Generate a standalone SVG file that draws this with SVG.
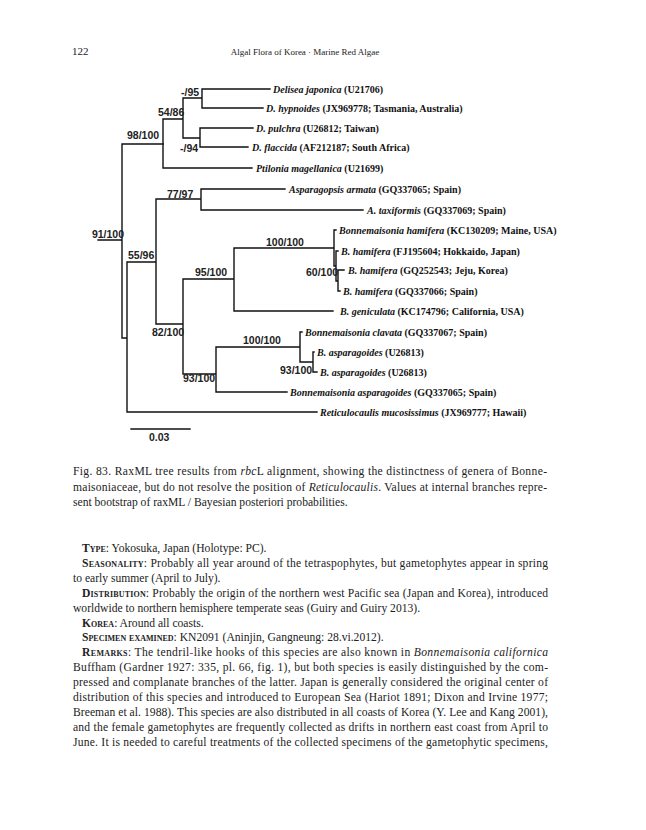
<svg xmlns="http://www.w3.org/2000/svg" width="646" height="830" viewBox="0 0 646 830">
<style>
.br{stroke:#111;stroke-width:1.4;fill:none;stroke-linecap:square}
.sup{font-family:"Liberation Sans",Arial,sans-serif;font-weight:bold;font-size:10.5px;fill:#222}
.tip{font-family:"Liberation Serif","Times New Roman",serif;font-weight:bold;font-size:10px;fill:#111}
.it{font-style:italic}
.hd{font-family:"Liberation Serif","Times New Roman",serif;fill:#222}
.tx{font-family:"Liberation Serif","Times New Roman",serif;font-size:11.6px;fill:#222}
.sc{font-variant:small-caps;font-weight:bold}
</style>
<rect width="646" height="830" fill="#fff"/>
<g id="header">
<text class="hd" x="72" y="55" font-size="11px">122</text>
<text class="hd" x="305" y="55" font-size="9px" text-anchor="middle">Algal Flora of Korea · Marine Red Algae</text>
</g>
<g id="connectors">
<path class="br" d="M98,240H122M122,144V338M122,144H163M122,338H127M127,262V412M127,412H317M127,262H156M156,199V324M156,199H201M201,189V210M201,189H285M201,210H363M156,324H183M183,279V374M183,279H234M234,248V311M234,248H334M234,311H333M334,230V266M334,230H336M334,266H336M336,251V281M336,251H338M336,281H338M338,270V291M338,270H344M338,291H340M183,374H216M216,347V392M216,347H300M216,392H287M300,332V362M300,332H302M300,362H313M313,352V372M313,352H314M313,372H317"/>
<path class="br" d="M163,119V168M163,168H252M163,119H183M183,98V138M183,98H202M202,89V108M202,89H270M202,108H263M183,138H200M200,128V147M200,128H253M200,147H248"/>
<path class="br" d="M131,429H190"/>
</g>
<g id="tips">
<g id="t1"><text class="tip" x="273" y="92.5"><tspan class="it">Delisea japonica</tspan> (U21706)</text></g>
<g id="t2"><text class="tip" x="266" y="111.5"><tspan class="it">D. hypnoides</tspan> (JX969778; Tasmania, Australia)</text></g>
<g id="t3"><text class="tip" x="256" y="131.5"><tspan class="it">D. pulchra</tspan> (U26812; Taiwan)</text></g>
<g id="t4"><text class="tip" x="252" y="150.5"><tspan class="it">D. flaccida</tspan> (AF212187; South Africa)</text></g>
<g id="t5"><text class="tip" x="256" y="171.5"><tspan class="it">Ptilonia magellanica</tspan> (U21699)</text></g>
<g id="t6"><text class="tip" x="289" y="192.5"><tspan class="it">Asparagopsis armata</tspan> (GQ337065; Spain)</text></g>
<g id="t7"><text class="tip" x="367" y="213.5"><tspan class="it">A. taxiformis</tspan> (GQ337069; Spain)</text></g>
<g id="t8"><text class="tip" x="339" y="233.5"><tspan class="it">Bonnemaisonia hamifera</tspan> (KC130209; Maine, USA)</text></g>
<g id="t9"><text class="tip" x="341" y="254.5"><tspan class="it">B. hamifera</tspan> (FJ195604; Hokkaido, Japan)</text></g>
<g id="t10"><text class="tip" x="348" y="274"><tspan class="it">B. hamifera</tspan> (GQ252543; Jeju, Korea)</text></g>
<g id="t11"><text class="tip" x="343" y="294.5"><tspan class="it">B. hamifera</tspan> (GQ337066; Spain)</text></g>
<g id="t12"><text class="tip" x="340" y="314.5"><tspan class="it">B. geniculata</tspan> (KC174796; California,  USA)</text></g>
<g id="t13"><text class="tip" x="305" y="335.5"><tspan class="it">Bonnemaisonia clavata</tspan> (GQ337067; Spain)</text></g>
<g id="t14"><text class="tip" x="317" y="355.5"><tspan class="it">B. asparagoides</tspan> (U26813)</text></g>
<g id="t15"><text class="tip" x="320" y="375.5"><tspan class="it">B. asparagoides</tspan> (U26813)</text></g>
<g id="t16"><text class="tip" x="290" y="395.5"><tspan class="it">Bonnemaisonia asparagoides</tspan> (GQ337065; Spain)</text></g>
<g id="t17"><text class="tip" x="320" y="415.5"><tspan class="it">Reticulocaulis mucosissimus</tspan> (JX969777;  Hawaii)</text></g>
</g>
<g id="supports">
<g id="s1"><text class="sup" x="181" y="96">-/95</text></g>
<g id="s2"><text class="sup" x="158" y="116">54/86</text></g>
<g id="s3"><text class="sup" x="127" y="139">98/100</text></g>
<g id="s4"><text class="sup" x="180" y="152">-/94</text></g>
<g id="s5"><text class="sup" x="124" y="238" text-anchor="end">91/100</text></g>
<g id="s6"><text class="sup" x="167" y="198">77/97</text></g>
<g id="s7"><text class="sup" x="128" y="259">55/96</text></g>
<g id="s8"><text class="sup" x="195" y="276">95/100</text></g>
<g id="s9"><text class="sup" x="266" y="246">100/100</text></g>
<g id="s10"><text class="sup" x="306" y="276">60/100</text></g>
<g id="s11"><text class="sup" x="152" y="336">82/100</text></g>
<g id="s12"><text class="sup" x="243" y="344">100/100</text></g>
<g id="s13"><text class="sup" x="183" y="382">93/100</text></g>
<g id="s14"><text class="sup" x="280" y="374">93/100</text></g>
<g id="scale"><text class="sup" x="149" y="441">0.03</text></g>
</g>
<g id="caption">
<text class="tx" x="73" y="475" textLength="474" lengthAdjust="spacing">Fig. 83.  RaxML tree results from <tspan class="it">rbc</tspan>L alignment, showing the distinctness of genera of Bonne-</text>
<text class="tx" x="73" y="490.5" textLength="474" lengthAdjust="spacing">maisoniaceae, but do not resolve the position of <tspan class="it">Reticulocaulis</tspan>.  Values at internal branches repre-</text>
<text class="tx" x="73" y="506">sent bootstrap of raxML / Bayesian posteriori probabilities.</text>
</g>
<g id="body">
<text class="tx" x="82" y="552"><tspan class="sc">Type</tspan>: Yokosuka, Japan (Holotype: PC).</text>
<text class="tx" x="82" y="566.9" textLength="466" lengthAdjust="spacing"><tspan class="sc">Seasonality</tspan>: Probably all year around of the tetraspophytes, but gametophytes appear in spring</text>
<text class="tx" x="73" y="581.8">to early summer (April to July).</text>
<text class="tx" x="82" y="596.7" textLength="466" lengthAdjust="spacing"><tspan class="sc">Distribution</tspan>: Probably the origin of the northern west Pacific sea (Japan and Korea), introduced</text>
<text class="tx" x="73" y="611.6">worldwide to northern hemisphere temperate seas (Guiry and Guiry 2013).</text>
<text class="tx" x="82" y="626.5"><tspan class="sc">Korea</tspan>: Around all coasts.</text>
<text class="tx" x="82" y="641.4"><tspan class="sc">Specimen examined</tspan>: KN2091 (Aninjin, Gangneung: 28.vi.2012).</text>
<text class="tx" x="82" y="656.3" textLength="466" lengthAdjust="spacing"><tspan class="sc">Remarks</tspan>:  The tendril<tspan fill="#d03050">-</tspan>like hooks of this species are also known in <tspan class="it">Bonnemaisonia californica</tspan></text>
<text class="tx" x="73" y="671.2" textLength="475" lengthAdjust="spacing">Buffham (Gardner 1927: 335, pl. 66, fig. 1), but both species is easily distinguished by the com-</text>
<text class="tx" x="73" y="686.1" textLength="475" lengthAdjust="spacing">pressed and complanate branches of the latter.  Japan is generally considered the original center of</text>
<text class="tx" x="73" y="701" textLength="475" lengthAdjust="spacing">distribution of this species and introduced to European Sea (Hariot 1891; Dixon and Irvine 1977;</text>
<text class="tx" x="73" y="715.9" textLength="475" lengthAdjust="spacing">Breeman et al. 1988).  This species are also distributed in all coasts of Korea (Y. Lee and Kang 2001),</text>
<text class="tx" x="73" y="730.8" textLength="475" lengthAdjust="spacing">and the female gametophytes are frequently collected as drifts in northern east coast from April to</text>
<text class="tx" x="73" y="745.7" textLength="475" lengthAdjust="spacing">June.  It is needed to careful treatments of the collected specimens of the gametophytic specimens,</text>
</g>
</svg>
